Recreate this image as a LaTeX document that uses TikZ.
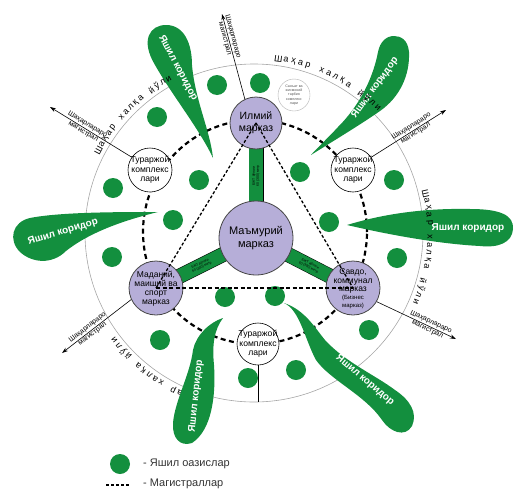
\documentclass[tikz,border=0pt]{standalone}
\usepackage{fontspec}
\setmainfont{Liberation Sans}
\usetikzlibrary{arrows.meta}
\definecolor{cgreen}{RGB}{19,143,62}
\definecolor{cpurple}{RGB}{182,174,216}
\definecolor{cline}{RGB}{70,70,70}
\newcommand\ringword[2]{%
  \foreach \rlet [count=\rnum] in {Ш,а,ҳ,а,р,{},х,а,л,қ,а,{},й,ў,л,и}{%
    \pgfmathsetmacro\rang{#1-(\rnum-1)*#2}%
    \node[ringltr, rotate=\rang-90] at ([shift={(\rang:176)}]C) {\rlet};}}
\begin{document}
\begin{tikzpicture}[x=1pt,y=1pt,
  oasisdot/.style={circle, fill=cgreen, minimum size=20pt, inner sep=0pt},
  hubnode/.style={circle, draw=cline, line width=0.8pt, fill=cpurple, inner sep=0pt},
  housenode/.style={circle, draw=black, line width=0.6pt, fill=white, minimum size=44pt, inner sep=0pt},
  housetxt/.style={align=center, font=\fontsize{8.6}{9.6}\selectfont, inner sep=0pt},
  corrtxt/.style={text=white, font=\bfseries\fontsize{10}{12}\selectfont, inner sep=0pt},
  ringdash/.style={line width=2.2pt, dash pattern=on 5pt off 3.5pt},
  tridash/.style={line width=1.3pt, dash pattern=on 3pt off 2pt},
  basedash/.style={line width=1.4pt, dash pattern=on 4pt off 2.5pt},
  magline/.style={line width=0.6pt, -{Stealth[length=6pt,width=4pt]}},
  maglbl/.style={font=\fontsize{7}{8}\selectfont, sloped, inner sep=1.2pt},
  ringltr/.style={font=\fontsize{9}{9}\selectfont, inner sep=0pt},
  greenbar/.style={draw=black, double=cgreen, double distance=14pt, line width=0.5pt},
  bartxt/.style={font=\fontsize{3.4}{3.9}\selectfont, sloped, align=center, inner sep=0pt}
]
\path[use as bounding box] (0,0) rectangle (514,-490);
\coordinate (C) at (254,-233);
\coordinate (C2) at (255,-232);

% outer ring road
\draw[gray!70, line width=0.6pt] (C) circle (169);

% magistral ring
\draw[ringdash] (C2) circle (112);

% nodes positions
\coordinate (pI) at (256,-123);
\coordinate (pM) at (256,-238);
\coordinate (pD) at (156,-288);
\coordinate (pS) at (353,-288);

% oases
\foreach \p [count=\k] in {(157,-117),(217,-85),(260,-83),(199,-180),(300,-172),(113,-188),(173,-220),(112,-257),(329,-222),(394,-180),(397,-258),(225,-297),(275,-296),(160,-340),(248,-378),(296,-370),(369,-330)}
  \node[oasisdot] (o\k) at \p {};

% ring road text hidden partly by a corridor
\ringword{252}{2.3}

% green corridors
\fill[cgreen] (213,-158) .. controls (200,-130) and (172,-95) .. (155,-65)
  .. controls (140,-40) and (150,-25) .. (166,-25)
  .. controls (185,-25) and (192,-45) .. (192,-65)
  .. controls (195,-100) and (210,-130) .. (213,-158) -- cycle;
\node[corrtxt, rotate=-62] (k1) at (178,-68) {Яшил коридор};

\fill[cgreen] (311,-155) .. controls (330,-143) and (360,-125) .. (380,-111)
  .. controls (400,-97) and (410,-75) .. (409,-52)
  .. controls (408,-40) and (401,-36) .. (394,-36)
  .. controls (386,-36) and (380,-42) .. (378,-52)
  .. controls (373,-78) and (360,-105) .. (338,-127)
  .. controls (327,-139) and (315,-150) .. (311,-155) -- cycle;
\node[corrtxt, rotate=54] (k2) at (375,-88) {Яшил коридор};

\fill[cgreen] (158,-212) .. controls (120,-212) and (60,-212) .. (30,-218)
  .. controls (12,-222) and (8,-240) .. (20,-252)
  .. controls (32,-263) and (52,-265) .. (66,-251)
  .. controls (90,-232) and (125,-220) .. (158,-212) -- cycle;
\node[corrtxt, rotate=17] (k3) at (63,-232) {Яшил коридор};

\fill[cgreen] (347,-225) .. controls (380,-215) and (420,-208) .. (470,-209)
  .. controls (500,-209) and (514,-215) .. (513,-229)
  .. controls (512,-243) and (498,-248) .. (480,-246)
  .. controls (440,-244) and (390,-235) .. (347,-225) -- cycle;
\node[corrtxt] (k4) at (468,-228) {Яшил коридор};

\fill[cgreen] (223,-318) .. controls (214,-330) and (212,-345) .. (214,-365)
  .. controls (216,-395) and (212,-430) .. (192,-443)
  .. controls (180,-447) and (172,-438) .. (173,-423)
  .. controls (175,-400) and (190,-375) .. (193,-350)
  .. controls (196,-335) and (210,-322) .. (223,-318) -- cycle;
\node[corrtxt, rotate=84] (k5) at (196,-396) {Яшил коридор};

\fill[cgreen] (284,-303) .. controls (300,-310) and (305,-340) .. (316,-360)
  .. controls (330,-380) and (365,-395) .. (382,-420)
  .. controls (390,-432) and (405,-438) .. (412,-426)
  .. controls (418,-413) and (410,-400) .. (395,-390)
  .. controls (375,-375) and (345,-362) .. (325,-340)
  .. controls (315,-328) and (305,-310) .. (284,-303) -- cycle;
\node[corrtxt, rotate=-40] (k6) at (365,-380) {Яшил коридор};

% ring road text
\ringword{152}{2.2}
\ringword{82}{2.45}
\ringword{13}{2.4}

% green bars
\draw[greenbar] (pM) -- (pI);
\draw[greenbar] (pM) -- (pD);
\draw[greenbar] (pM) -- (pS);
\path (pM) -- node[bartxt, pos=0.54] (bt1) {БЖТ йўлаги\\60 (300) метр} (pI);
\path (pM) -- node[bartxt, pos=0.55] (bt2) {БЖТ йўлаги\\60 (300) метр} (pD);
\path (pM) -- node[bartxt, pos=0.55] (bt3) {БЖТ йўлаги\\60 (300) метр} (pS);

% centres
\node[hubnode, minimum size=74pt] (M) at (pM) {};
\node[align=center, font=\fontsize{11}{13}\selectfont] (Mt) at (pM) {Маъмурий\\марказ};
\node[hubnode, minimum size=52pt] (I) at (pI) {};
\node[align=center, font=\fontsize{10.5}{12}\selectfont] (It) at (pI) {Илмий\\марказ};
\node[hubnode, minimum size=54pt] (D) at (pD) {};
\node[align=center, font=\fontsize{8.5}{9}\selectfont, inner sep=0pt] (Dt) at ([yshift=-1pt]pD) {Маданий,\\маиший ва\\спорт\\марказ};
\node[hubnode, minimum size=54pt] (S) at (pS) {};
\node[align=center, font=\fontsize{8.5}{8.3}\selectfont, inner sep=0pt] (St) at ([yshift=-1pt]pS) {Савдо,\\коммунал\\марказ\\{\fontsize{6}{7}\selectfont (Бизнес}\\{\fontsize{6}{7}\selectfont марказ)}};

% residential complexes
\node[housenode] (T1) at (150,-170) {};
\node[housetxt] (T1t) at (T1) {Тураржой\\комплекс\\лари};
\node[housenode] (T2) at (353,-170) {};
\node[housetxt] (T2t) at (T2) {Тураржой\\комплекс\\лари};
\node[housenode, minimum size=42pt] (B) at (258,-344) {};
\node[housetxt] (Bt) at (B) {Тураржой\\комплекс\\лари};
\node[circle, draw=gray!60, line width=0.4pt, fill=white, minimum size=32pt, inner sep=0pt] (Sm) at (294,-95) {};
\node[align=center, font=\fontsize{3.6}{4.3}\selectfont, text=gray!70!black, inner sep=0pt] (Smt) at (Sm) {Санъат ва\\жисмоний\\тарбия\\комплекс\\лари};

% triangle of main roads
\draw[tridash] (I.center) -- (D.center);
\draw[tridash] (I.center) -- (S.center);
\draw[basedash] (D.center) -- (S.center);

% intercity magistrals
\coordinate (a1) at (222,-14);
\coordinate (a2) at (50,-107);
\coordinate (a3) at (446,-110);
\coordinate (a4) at (62,-353);
\coordinate (a5) at (456,-339);
\coordinate (bend) at (258,-402);
\draw[magline] (I.115) -- node[maglbl, pos=0.72, above] {Шаҳарлараро} node[maglbl, pos=0.72, below] {магистрал} (a1);
\draw[magline] (T1.145) -- node[maglbl, pos=0.57, above] {Шаҳарлараро} node[maglbl, pos=0.57, below] {магистрал} (a2);
\draw[magline] (T2.35) -- node[maglbl, pos=0.57, above] {Шаҳарлараро} node[maglbl, pos=0.57, below] {магистрал} (a3);
\draw[magline] (D.205) -- node[maglbl, pos=0.59, above] {Шаҳарлараро} node[maglbl, pos=0.59, below] {магистрал} (a4);
\draw[magline] (S.-30) -- node[maglbl, pos=0.66, above] {Шаҳарлараро} node[maglbl, pos=0.66, below] {магистрал} (a5);
\draw[line width=0.6pt] (B) -- (bend);

% legend
\node[oasisdot] (lg1) at (120,-464) {};
\node[anchor=west, inner sep=0pt, font=\fontsize{11}{13}\selectfont, text=black!80] (lt1) at (143,-464) {- Яшил оазислар};
\coordinate (ld1) at (106,-485);
\coordinate (ld2) at (130,-485);
\draw[line width=1.6pt, dash pattern=on 3pt off 2pt] (ld1) -- (ld2);
\node[anchor=west, inner sep=0pt, font=\fontsize{11}{13}\selectfont, text=black!80] (lt2) at (143,-484) {- Магистраллар};
\end{tikzpicture}
\end{document}
